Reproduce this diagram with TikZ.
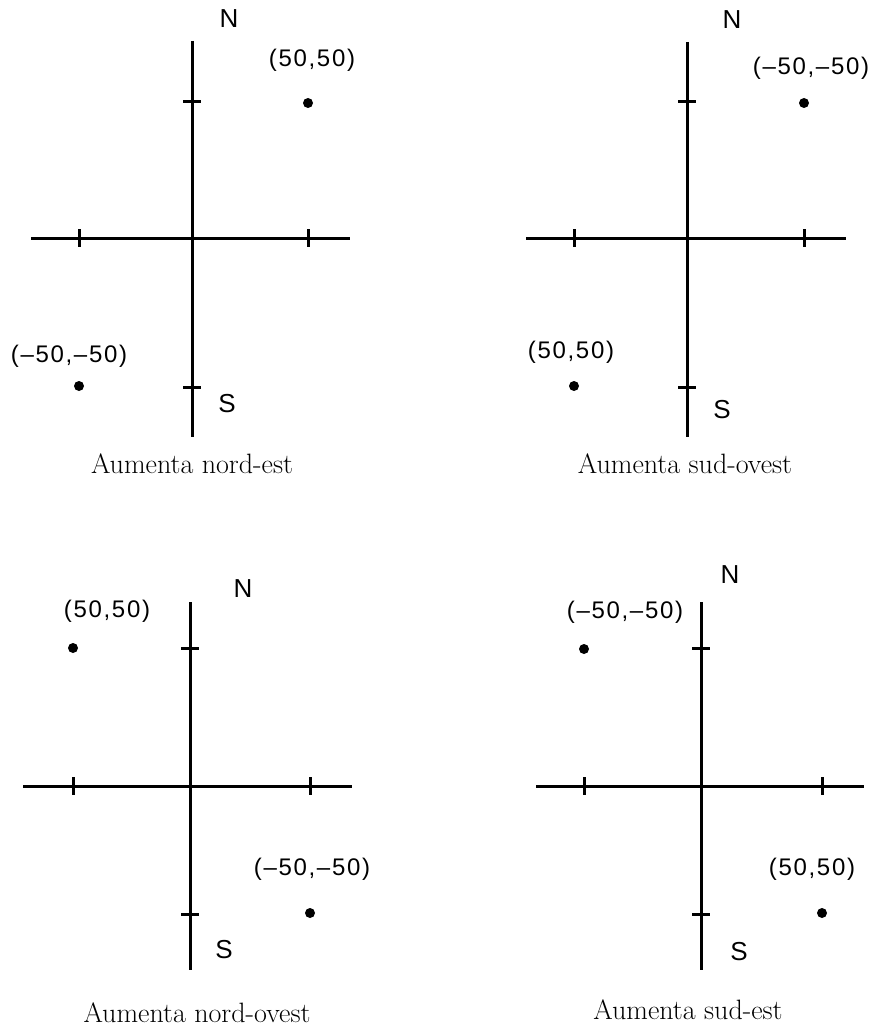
\documentclass[tikz,border=0pt]{standalone}
\usepackage{fontspec}
\newfontfamily\labelfont{Liberation Sans}[LetterSpace=7]
\newfontfamily\dirfont{Liberation Sans}
\usetikzlibrary{positioning}
\tikzset{
    axis/.style={
        line width=3pt
    },
    tickmark/.style={
        line width=3pt
    },
    pnt/.style={
        circle,
        fill,
        inner sep=0pt,
        minimum size=10pt
    },
    coordlbl/.style={font=\labelfont\fontsize{24}{28}\selectfont, inner sep=0pt, anchor=base},
    dirlbl/.style={font=\dirfont\fontsize{26}{30}\selectfont, inner sep=0pt, anchor=base},
    caption/.style={font=\fontsize{28}{32}\selectfont, inner sep=0pt, anchor=base}
}
\begin{document}
\begin{tikzpicture}[x=1pt, y=-1pt]
\useasboundingbox (0,0) rectangle (874,1027);

% nord-est
\coordinate (ne-n) at (192,41);
\coordinate (ne-s) at (192,437);
\coordinate (ne-w) at (31,238);
\coordinate (ne-e) at (350,238);
\draw[axis] (ne-n) -- (ne-s);
\draw[axis] (ne-w) -- (ne-e);
\draw[tickmark] (192,102) +(-9,0) -- +(9,0);
\draw[tickmark] (192,387) +(-9,0) -- +(9,0);
\draw[tickmark] (79,238) +(0,-9) -- +(0,9);
\draw[tickmark] (308,238) +(0,-9) -- +(0,9);
\node[pnt] (ne-p) at (308,103) {};
\node[pnt] (ne-q) at (79,386) {};
\node[coordlbl] (ne-plbl) at (312,67) {(50,50)};
\node[coordlbl] (ne-qlbl) at (69,362) {(–50,–50)};
\node[dirlbl] (ne-nlbl) at (229,28) {N};
\node[dirlbl] (ne-slbl) at (227,412) {S};
\node[caption] (ne-cap) at (192,473) {Aumenta nord-est};

% sud-ovest
\coordinate (so-n) at (687,42);
\coordinate (so-s) at (687,437);
\coordinate (so-w) at (526,238);
\coordinate (so-e) at (846,238);
\draw[axis] (so-n) -- (so-s);
\draw[axis] (so-w) -- (so-e);
\draw[tickmark] (687,102) +(-9,0) -- +(9,0);
\draw[tickmark] (687,387) +(-9,0) -- +(9,0);
\draw[tickmark] (574,238) +(0,-9) -- +(0,9);
\draw[tickmark] (804,238) +(0,-9) -- +(0,9);
\node[pnt] (so-p) at (804,103) {};
\node[pnt] (so-q) at (574,386) {};
\node[coordlbl] (so-plbl) at (811,75) {(–50,–50)};
\node[coordlbl] (so-qlbl) at (571,358) {(50,50)};
\node[dirlbl] (so-nlbl) at (732,29) {N};
\node[dirlbl] (so-slbl) at (722,418) {S};
\node[caption] (so-cap) at (685,473) {Aumenta sud-ovest};

% nord-ovest
\coordinate (no-n) at (190,602);
\coordinate (no-s) at (190,970);
\coordinate (no-w) at (23,786);
\coordinate (no-e) at (352,786);
\draw[axis] (no-n) -- (no-s);
\draw[axis] (no-w) -- (no-e);
\draw[tickmark] (190,648) +(-9,0) -- +(9,0);
\draw[tickmark] (190,914) +(-9,0) -- +(9,0);
\draw[tickmark] (73,786) +(0,-9) -- +(0,9);
\draw[tickmark] (310,786) +(0,-9) -- +(0,9);
\node[pnt] (no-p) at (73,648) {};
\node[pnt] (no-q) at (310,913) {};
\node[coordlbl] (no-plbl) at (107,617) {(50,50)};
\node[coordlbl] (no-qlbl) at (312,875) {(–50,–50)};
\node[dirlbl] (no-nlbl) at (243,597) {N};
\node[dirlbl] (no-slbl) at (224,958) {S};
\node[caption] (no-cap) at (197,1022) {Aumenta nord-ovest};

% sud-est
\coordinate (se-n) at (701,602);
\coordinate (se-s) at (701,970);
\coordinate (se-w) at (536,786);
\coordinate (se-e) at (864,786);
\draw[axis] (se-n) -- (se-s);
\draw[axis] (se-w) -- (se-e);
\draw[tickmark] (701,648) +(-9,0) -- +(9,0);
\draw[tickmark] (701,914) +(-9,0) -- +(9,0);
\draw[tickmark] (584,786) +(0,-9) -- +(0,9);
\draw[tickmark] (822,786) +(0,-9) -- +(0,9);
\node[pnt] (se-p) at (584,649) {};
\node[pnt] (se-q) at (822,913) {};
\node[coordlbl] (se-plbl) at (625,618) {(–50,–50)};
\node[coordlbl] (se-qlbl) at (812,875) {(50,50)};
\node[dirlbl] (se-nlbl) at (730,583) {N};
\node[dirlbl] (se-slbl) at (739,960) {S};
\node[caption] (se-cap) at (688,1019) {Aumenta sud-est};

\end{tikzpicture}
\end{document}
